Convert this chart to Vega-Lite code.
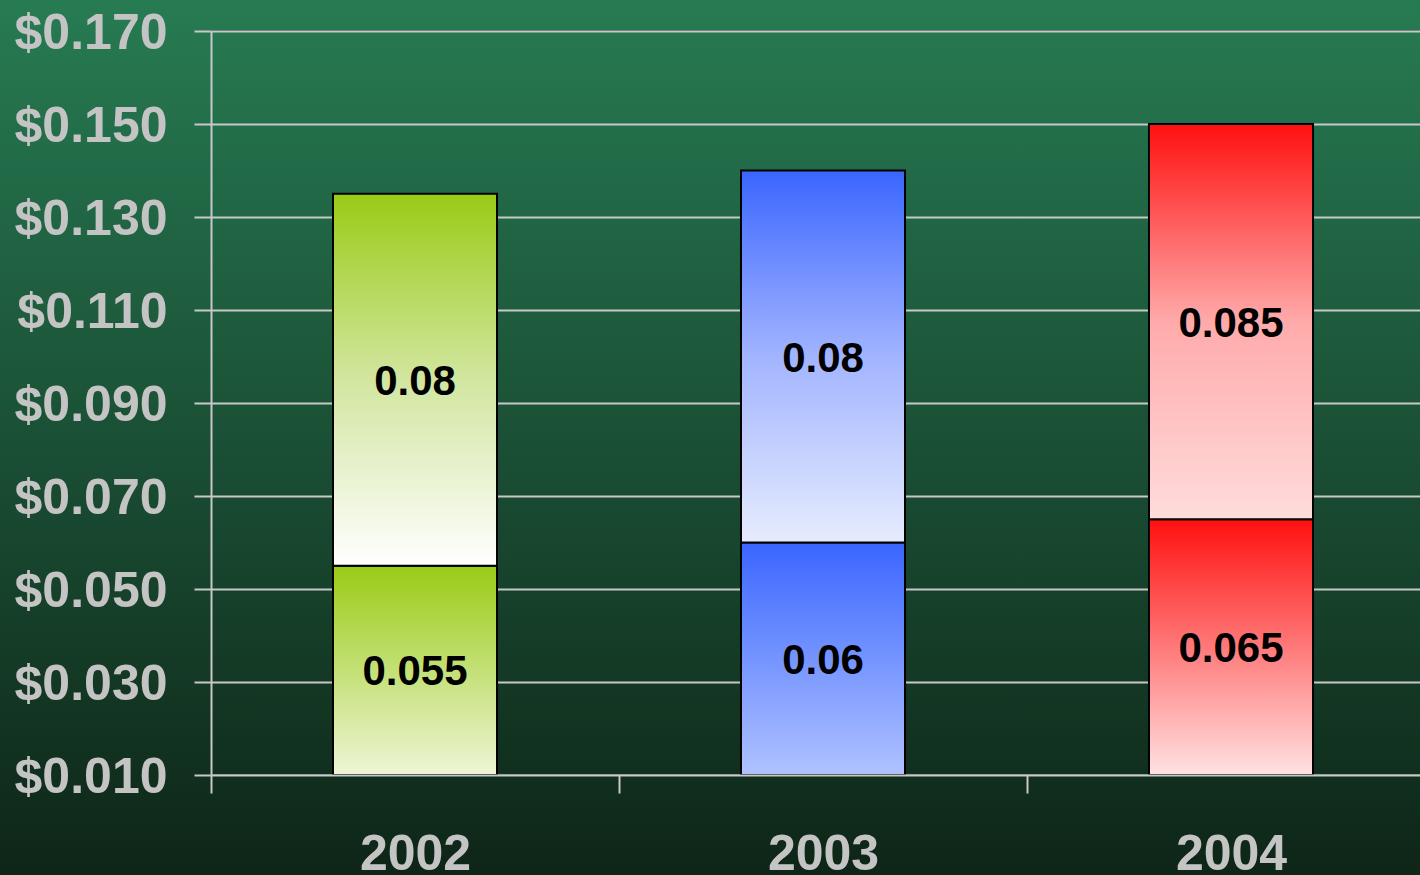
{
  "$schema": "https://vega.github.io/schema/vega-lite/v6.json",
  "autosize": "none",
  "width": 1224,
  "height": 744,
  "padding": {"left": 211, "top": 31, "right": -15, "bottom": 100},
  "background": "#1b4a33",
  "view": {
    "stroke": null,
    "fill": {"gradient": "linear", "x1": 0, "y1": 0, "x2": 0, "y2": 1,
      "stops": [{"offset": 0, "color": "#267851"}, {"offset": 1, "color": "#112f1e"}]}
  },
  "resolve": {"scale": {"x": "independent", "y": "independent"}},
  "layer": [
    {
      "data": {"values": [{}]},
      "layer": [
        {
          "mark": {"type": "rect", "fill": {"gradient": "linear", "x1": 0, "y1": 0, "x2": 0, "y2": 1,
            "stops": [{"offset": 0, "color": "#277b53"}, {"offset": 1, "color": "#0e2517"}]}},
          "encoding": {
            "x": {"datum": 0, "type": "quantitative", "scale": {"domain": [0.148592, 1.010563], "nice": false, "zero": false}, "axis": null},
            "x2": {"datum": 0.148592},
            "y": {"datum": 1, "type": "quantitative", "scale": {"domain": [0.114286, 0.964571], "nice": false, "zero": false}, "axis": null},
            "y2": {"datum": 0}
          }
        },
        {
          "mark": {"type": "rect", "fill": {"gradient": "linear", "x1": 0, "y1": 0, "x2": 0, "y2": 1,
            "stops": [{"offset": 0, "color": "#277b53"}, {"offset": 1, "color": "#267851"}]}},
          "encoding": {
            "x": {"datum": 0.148592, "type": "quantitative", "scale": {"domain": [0.148592, 1.010563], "nice": false, "zero": false}, "axis": null},
            "x2": {"datum": 1.010563},
            "y": {"datum": 1, "type": "quantitative", "scale": {"domain": [0.114286, 0.964571], "nice": false, "zero": false}, "axis": null},
            "y2": {"datum": 0.965714}
          }
        },
        {
          "mark": {"type": "rect", "fill": {"gradient": "linear", "x1": 0, "y1": 0, "x2": 0, "y2": 1,
            "stops": [{"offset": 0, "color": "#112f1e"}, {"offset": 1, "color": "#0e2517"}]}},
          "encoding": {
            "x": {"datum": 0.148592, "type": "quantitative", "scale": {"domain": [0.148592, 1.010563], "nice": false, "zero": false}, "axis": null},
            "x2": {"datum": 1.010563},
            "y": {"datum": 0.114286, "type": "quantitative", "scale": {"domain": [0.114286, 0.964571], "nice": false, "zero": false}, "axis": null},
            "y2": {"datum": 0}
          }
        }
      ]
    },
    {
      "data": {"values": [
        {"year": "2002", "payment": "first", "value": 0.055},
        {"year": "2002", "payment": "second", "value": 0.08},
        {"year": "2003", "payment": "first", "value": 0.06},
        {"year": "2003", "payment": "second", "value": 0.08},
        {"year": "2004", "payment": "first", "value": 0.065},
        {"year": "2004", "payment": "second", "value": 0.085}
      ]},
      "transform": [
        {"stack": "value", "groupby": ["year"], "sort": [{"field": "payment", "order": "ascending"}], "as": ["lo", "hi"]},
        {"calculate": "(max(datum.lo, 0.01) + datum.hi) / 2", "as": "mid"}
      ],
      "resolve": {"scale": {"y": "independent"}},
      "layer": [
        {
          "encoding": {
            "x": {
              "field": "year", "type": "nominal",
              "scale": {"paddingInner": 0, "paddingOuter": 0},
              "axis": {
                "title": null, "labelAngle": 0, "tickBand": "extent",
                "domainColor": "#c8c8c8", "domainWidth": 2,
                "tickColor": "#c8c8c8", "tickWidth": 2, "tickSize": 18,
                "labelPadding": 36, "labelFont": "Liberation Sans", "labelFontSize": 50,
                "labelFontWeight": "bold", "labelColor": "#c4c4c4", "zindex": 1
              }
            },
            "y": {
              "field": "hi", "type": "quantitative",
              "scale": {"domain": [0.01, 0.17], "nice": false, "zero": false, "clamp": true},
              "axis": {
                "orient": "left", "title": null, "grid": true, "labels": false, "ticks": false, "domain": false,
                "values": [0.01, 0.03, 0.05, 0.07, 0.09, 0.11, 0.13, 0.15, 0.17],
                "gridColor": "#c8c8c8", "gridWidth": 2, "gridOpacity": 1, "zindex": 0
              }
            },
            "y2": {"field": "lo"}
          },
          "layer": [
            {
              "transform": [{"filter": "datum.year == '2002' && datum.payment == 'first'"}],
              "mark": {"type": "bar", "width": {"band": 0.402}, "stroke": "#000000", "strokeWidth": 2,
                "fill": {"gradient": "linear", "x1": 0, "y1": 0, "x2": 0, "y2": 1,
                  "stops": [{"offset": 0, "color": "#9acb16"}, {"offset": 1, "color": "#eef5d6"}]}}
            },
            {
              "transform": [{"filter": "datum.year == '2002' && datum.payment == 'second'"}],
              "mark": {"type": "bar", "width": {"band": 0.402}, "stroke": "#000000", "strokeWidth": 2,
                "fill": {"gradient": "linear", "x1": 0, "y1": 0, "x2": 0, "y2": 1,
                  "stops": [{"offset": 0, "color": "#9acb16"}, {"offset": 0.5, "color": "#d2e6a0"}, {"offset": 1, "color": "#ffffff"}]}}
            },
            {
              "transform": [{"filter": "datum.year == '2003' && datum.payment == 'first'"}],
              "mark": {"type": "bar", "width": {"band": 0.402}, "stroke": "#000000", "strokeWidth": 2,
                "fill": {"gradient": "linear", "x1": 0, "y1": 0, "x2": 0, "y2": 1,
                  "stops": [{"offset": 0, "color": "#3a66ff"}, {"offset": 1, "color": "#b0c2ff"}]}}
            },
            {
              "transform": [{"filter": "datum.year == '2003' && datum.payment == 'second'"}],
              "mark": {"type": "bar", "width": {"band": 0.402}, "stroke": "#000000", "strokeWidth": 2,
                "fill": {"gradient": "linear", "x1": 0, "y1": 0, "x2": 0, "y2": 1,
                  "stops": [{"offset": 0, "color": "#3a66ff"}, {"offset": 0.5, "color": "#a2b4ff"}, {"offset": 1, "color": "#e6ecfd"}]}}
            },
            {
              "transform": [{"filter": "datum.year == '2004' && datum.payment == 'first'"}],
              "mark": {"type": "bar", "width": {"band": 0.402}, "stroke": "#000000", "strokeWidth": 2,
                "fill": {"gradient": "linear", "x1": 0, "y1": 0, "x2": 0, "y2": 1,
                  "stops": [{"offset": 0, "color": "#ff1010"}, {"offset": 1, "color": "#ffe2e2"}]}}
            },
            {
              "transform": [{"filter": "datum.year == '2004' && datum.payment == 'second'"}],
              "mark": {"type": "bar", "width": {"band": 0.402}, "stroke": "#000000", "strokeWidth": 2,
                "fill": {"gradient": "linear", "x1": 0, "y1": 0, "x2": 0, "y2": 1,
                  "stops": [{"offset": 0, "color": "#ff1010"}, {"offset": 0.5, "color": "#ffaaaa"}, {"offset": 1, "color": "#ffdcdc"}]}}
            }
          ]
        },
        {
          "mark": {"type": "text", "font": "Liberation Sans", "fontSize": 42, "fontWeight": "bold", "color": "#000000", "baseline": "middle", "align": "center", "dy": 2},
          "encoding": {
            "x": {"field": "year", "type": "nominal"},
            "y": {
              "field": "mid", "type": "quantitative",
              "scale": {"domain": [0.01, 0.17], "nice": false, "zero": false, "clamp": true},
              "axis": {
                "orient": "left", "title": null, "grid": false,
                "values": [0.01, 0.03, 0.05, 0.07, 0.09, 0.11, 0.13, 0.15, 0.17],
                "format": "$.3f",
                "domainColor": "#c8c8c8", "domainWidth": 2,
                "tickColor": "#c8c8c8", "tickWidth": 2, "tickSize": 17,
                "labelPadding": 27, "labelOffset": 2, "labelFont": "Liberation Sans", "labelFontSize": 50,
                "labelFontWeight": "bold", "labelColor": "#c4c4c4", "zindex": 1
              }
            },
            "text": {"field": "value", "type": "quantitative", "format": "~g"}
          }
        }
      ]
    }
  ]
}
